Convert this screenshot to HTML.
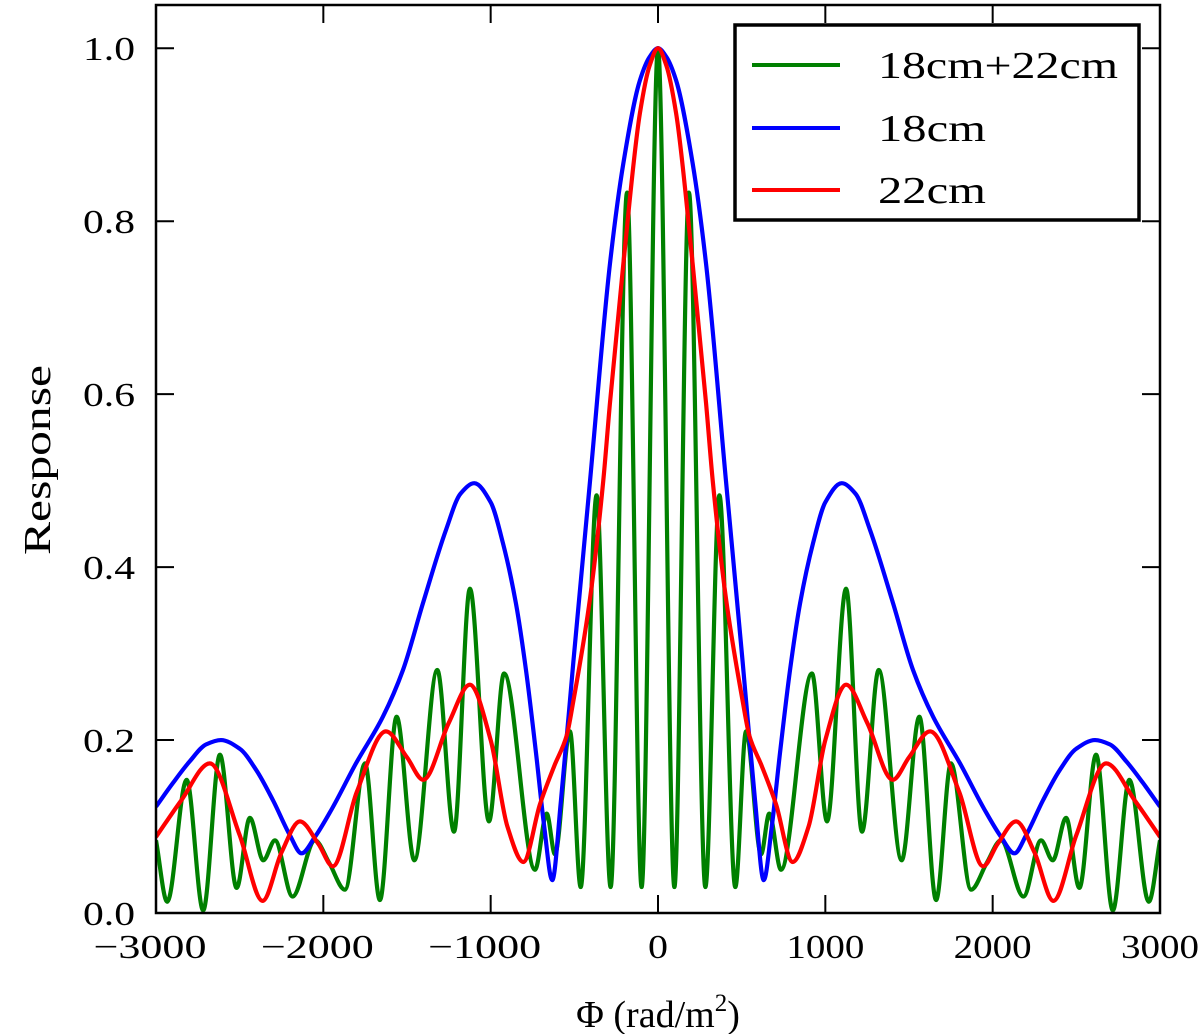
<!DOCTYPE html>
<html><head><meta charset="utf-8"><style>
html,body{margin:0;padding:0;background:#fff;}
svg{display:block;font-family:"Liberation Serif","DejaVu Serif",serif;}
</style></head><body>
<svg id="chart" width="1200" height="1034" viewBox="0 0 1200 1034" xmlns="http://www.w3.org/2000/svg">
<g id="series"></g>
<rect x="156" y="5" width="1004" height="908" fill="none" stroke="#000" stroke-width="2.5"/>
<g id="ticks"></g>
<text x="658" y="1027" font-size="38" text-anchor="middle">Φ (rad/m<tspan font-size="25" dy="-16">2</tspan><tspan dy="16">)</tspan></text>
<text transform="translate(50,460) rotate(-90)" font-size="38" text-anchor="middle" textLength="190" lengthAdjust="spacingAndGlyphs">Response</text>
<g>
<rect x="735" y="25" width="404" height="195" fill="#fff" stroke="#000" stroke-width="3.5"/>
<line x1="752" y1="65" x2="840" y2="65" stroke="#008000" stroke-width="4"/>
<text x="878" y="78" font-size="38" textLength="240" lengthAdjust="spacingAndGlyphs">18cm+22cm</text>
<line x1="752" y1="128" x2="840" y2="128" stroke="#0000ff" stroke-width="4"/>
<text x="878" y="141" font-size="38" textLength="108" lengthAdjust="spacingAndGlyphs">18cm</text>
<line x1="752" y1="190" x2="840" y2="190" stroke="#ff0000" stroke-width="4"/>
<text x="878" y="203" font-size="38" textLength="108" lengthAdjust="spacingAndGlyphs">22cm</text>
</g>
</svg>
<script>
const xTicks = [-3000,-2000,-1000,0,1000,2000,3000];
const xTickLabels = ["\u22123000","\u22122000","\u22121000","0","1000","2000","3000"];
const yTicks = [0,0.2,0.4,0.6,0.8,1.0];
const yTickLabels = ["0.0","0.2","0.4","0.6","0.8","1.0"];

const greenPhi = [-3000,-2933,-2817,-2718,-2618,-2518,-2439,-2359,-2289,-2184,-2050,-1965,-1871,-1751,-1662,-1562,-1456,-1319,-1219,-1124,-1010,-920,-735,-665,-616,-526,-462,-367,-283,-185,-98,0,98,185,283,367,462,526,616,665,735,920,1010,1124,1219,1319,1456,1562,1662,1751,1871,1965,2050,2184,2289,2359,2439,2518,2618,2718,2817,2933,3000];
const greenR = [0.084,0.013,0.154,0.003,0.183,0.029,0.11,0.061,0.084,0.019,0.084,0.058,0.027,0.173,0.015,0.227,0.061,0.281,0.094,0.375,0.106,0.277,0.05,0.115,0.068,0.21,0.03,0.483,0.03,0.833,0.03,1.0,0.03,0.833,0.03,0.483,0.03,0.21,0.068,0.115,0.05,0.277,0.106,0.375,0.094,0.281,0.061,0.227,0.015,0.173,0.027,0.058,0.084,0.019,0.084,0.061,0.11,0.029,0.183,0.003,0.154,0.013,0.084];

const bluePhi = [-3000,-2900,-2800,-2700,-2612,-2500,-2400,-2300,-2200,-2130,-2050,-1950,-1805,-1644,-1524,-1405,-1267,-1180,-1098,-1000,-927,-849,-789,-729,-680,-632,-580,-506,-406,-287,-207,-108,-50,0,50,108,207,287,406,506,580,632,680,729,789,849,927,1000,1098,1180,1267,1405,1524,1644,1805,1950,2050,2130,2200,2300,2400,2500,2612,2700,2800,2900,3000];
const blueR = [0.123,0.15,0.175,0.195,0.2,0.19,0.165,0.13,0.09,0.069,0.088,0.12,0.173,0.227,0.281,0.358,0.443,0.485,0.497,0.475,0.428,0.358,0.281,0.185,0.1,0.038,0.13,0.29,0.5,0.751,0.867,0.963,0.99,1.0,0.99,0.963,0.867,0.751,0.5,0.29,0.13,0.038,0.1,0.185,0.281,0.358,0.428,0.475,0.497,0.485,0.443,0.358,0.281,0.227,0.173,0.12,0.088,0.069,0.09,0.13,0.165,0.19,0.2,0.195,0.175,0.15,0.123];

const redPhi = [-3000,-2850,-2678,-2500,-2363,-2250,-2140,-2030,-1943,-1800,-1626,-1500,-1403,-1250,-1124,-1000,-900,-805,-705,-620,-546,-506,-406,-327,-287,-207,-108,-50,0,50,108,207,287,327,406,506,546,620,705,805,900,1000,1124,1250,1403,1500,1626,1800,1943,2030,2140,2250,2363,2500,2678,2850,3000];
const redR = [0.088,0.13,0.173,0.09,0.014,0.07,0.106,0.08,0.054,0.14,0.21,0.18,0.154,0.22,0.264,0.2,0.1,0.059,0.126,0.17,0.205,0.245,0.364,0.5,0.59,0.751,0.925,0.98,1.0,0.98,0.925,0.751,0.59,0.5,0.364,0.245,0.205,0.17,0.126,0.059,0.1,0.2,0.264,0.22,0.154,0.18,0.21,0.14,0.054,0.08,0.106,0.07,0.014,0.09,0.173,0.13,0.088];

const X0=156, X1=1160, Y0=913, Y1=5;
function xs(v){return X0+(v+3000)/6000*(X1-X0);}
function ys(v){return Y0-v/1.05*(Y0-Y1);}
const NS="http://www.w3.org/2000/svg";

function monotonePath(px,py){
  const n=px.length, d=[], m=[];
  for(let i=0;i<n-1;i++) d.push((py[i+1]-py[i])/(px[i+1]-px[i]));
  for(let i=0;i<n;i++){
    if(i===0) m.push(d[0]); else if(i===n-1) m.push(d[n-2]);
    else if(d[i-1]*d[i]<=0) m.push(0);
    else { const h0=px[i]-px[i-1],h1=px[i+1]-px[i];
      m.push(3*(h0+h1)/((2*h1+h0)/d[i-1]+(h1+2*h0)/d[i])); }
  }
  let s="M"+px[0].toFixed(2)+","+py[0].toFixed(2);
  for(let i=0;i<n-1;i++){
    const h=(px[i+1]-px[i])/3;
    s+=" C"+(px[i]+h).toFixed(2)+","+(py[i]+m[i]*h).toFixed(2)+" "+(px[i+1]-h).toFixed(2)+","+(py[i+1]-m[i+1]*h).toFixed(2)+" "+px[i+1].toFixed(2)+","+py[i+1].toFixed(2);
  }
  return s;
}
const layer=document.getElementById('series');
function drawSeries(phi,r,color,name){
  const p=document.createElementNS(NS,'path');
  p.setAttribute('d',monotonePath(phi.map(xs),r.map(ys)));
  p.setAttribute('fill','none');p.setAttribute('stroke',color);p.setAttribute('stroke-width','4.2');
  p.setAttribute('stroke-linejoin','round');
  
  
  layer.appendChild(p);
}
const clip=document.createElementNS(NS,'clipPath');clip.setAttribute('id','pc');
const cr=document.createElementNS(NS,'rect');cr.setAttribute('x',X0);cr.setAttribute('y',Y1);cr.setAttribute('width',X1-X0);cr.setAttribute('height',Y0-Y1);
clip.appendChild(cr);document.getElementById('chart').appendChild(clip);
layer.setAttribute('clip-path','url(#pc)');
drawSeries(greenPhi,greenR,'#008000','series-18cm-22cm');
drawSeries(bluePhi,blueR,'#0000ff','series-18cm');
drawSeries(redPhi,redR,'#ff0000','series-22cm');

const tg=document.getElementById('ticks');
function line(x1,y1,x2,y2,name){
  const l=document.createElementNS(NS,'line');
  l.setAttribute('x1',x1);l.setAttribute('y1',y1);l.setAttribute('x2',x2);l.setAttribute('y2',y2);
  l.setAttribute('stroke','#000');l.setAttribute('stroke-width','2');
  
  
  tg.appendChild(l);
}
function txt(x,y,s,anchor,len,name){
  const t=document.createElementNS(NS,'text');
  t.setAttribute('x',x);t.setAttribute('y',y);t.setAttribute('font-size','34');
  t.setAttribute('text-anchor',anchor);
  t.setAttribute('textLength',len);t.setAttribute('lengthAdjust','spacingAndGlyphs');
  t.textContent=s;
  
  
  tg.appendChild(t);
}
xTicks.forEach((v,i)=>{
  const x=xs(v);
  line(x,Y0,x,Y0-18,'x-tick');
  line(x,Y1,x,Y1+18,'x-tick-top');
  const s=xTickLabels[i];
  const len=s.length===1?20:(s.length===4?78:113);
  txt(s.startsWith('\u2212')?x-6:x,958,s,'middle',len,'x-tick-label');
});
yTicks.forEach((v,i)=>{
  const y=ys(v);
  line(X0,y,X0+18,y,'y-tick');
  line(X1,y,X1-18,y,'y-tick-right');
  txt(135,y+12,yTickLabels[i],'end',52,'y-tick-label');
});
</script>
</body></html>
